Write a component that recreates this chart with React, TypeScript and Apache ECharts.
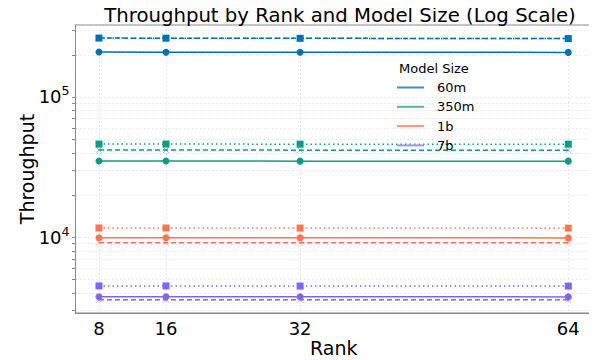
import React, { useEffect, useRef } from "react";
import * as echarts from "echarts";

const ranks = [8, 16, 32, 64];
const models = ["60m", "350m", "1b", "7b"];
const modelColors = ["#0072B2", "#0C9C85", "#FF7350", "#7B68EE"];
const legendColors = ["#3C8FC8", "#4FB8A5", "#FF9477", "#A396F2"];

// Throughput per model (one value per rank) for the three line styles
const solidValues = [
  [209000, 208500, 208500, 208000],
  [35000, 35000, 34900, 34900],
  [9930, 9930, 9920, 9900],
  [3770, 3770, 3770, 3760],
];
const dashedValues = [
  [263000, 262500, 262000, 261000],
  [41900, 41900, 41800, 41800],
  [9150, 9150, 9140, 9130],
  [3590, 3590, 3590, 3580],
];
const dottedValues = [
  [263000, 262500, 262000, 261000],
  [46200, 46200, 46100, 46100],
  [11650, 11650, 11640, 11620],
  [4500, 4500, 4490, 4490],
];

const yMajorTicks = [10000, 100000];
const yMinorTicks = [3000, 4000, 5000, 6000, 7000, 8000, 9000, 20000, 30000, 40000, 50000, 60000, 70000, 80000, 90000, 200000, 300000];

const FONT = "DejaVu Sans";

function toPairs(vals: number[]) {
  return ranks.map((r, i) => [r, vals[i]]);
}

export default function App() {
  const ref = useRef<HTMLDivElement>(null);

  useEffect(() => {
    if (!ref.current) return;
    const chart = echarts.init(ref.current, undefined, { renderer: "svg" });

    const series: any[] = [];
    models.forEach((m, k) => {
      const c = modelColors[k];
      series.push({
        name: m + " dotted",
        type: "line",
        data: toPairs(dottedValues[k]),
        symbol: "rect",
        symbolSize: 7,
        lineStyle: { color: c, width: 1.5, type: [1.5, 3] },
        itemStyle: { color: c },
        z: 2,
      });
      series.push({
        name: m + " dashed",
        type: "line",
        data: toPairs(dashedValues[k]),
        symbol: "path://M0,0L10,10M10,0L0,10",
        symbolSize: 6,
        lineStyle: { color: c, width: 1.5, type: [5, 3] },
        itemStyle: { color: "none", borderColor: c, borderWidth: 1, opacity: 0.5 },
        z: 3,
      });
      series.push({
        name: m,
        type: "line",
        data: toPairs(solidValues[k]),
        symbol: "circle",
        symbolSize: 7,
        lineStyle: { color: c, width: 1.5 },
        itemStyle: { color: c },
        z: 4,
      });
    });

    chart.setOption({
      animation: false,
      title: {
        text: "Throughput by Rank and Model Size (Log Scale)",
        left: 335,
        textAlign: "center",
        top: 0,
        textStyle: { fontFamily: FONT, fontSize: 19.7, fontWeight: "normal", color: "#000" },
      },
      legend: {
        data: models.map((m, k) => ({ name: m, icon: "rect", itemStyle: { color: legendColors[k] } })),
        orient: "vertical",
        left: 397,
        top: 80,
        padding: 0,
        itemWidth: 27,
        itemHeight: 2,
        itemGap: 4.3,
        textStyle: { fontFamily: FONT, fontSize: 13, color: "#000", padding: [0, 0, 0, 8], lineHeight: 15 },
        selectedMode: false,
      },
      graphic: [
        {
          type: "text",
          left: 399,
          top: 62,
          style: { text: "Model Size", fontFamily: FONT, fontSize: 13, fill: "#000" },
        },
      ],
      grid: {
        left: 75.5,
        right: 5,
        top: 25,
        bottom: 47,
        outerBoundsMode: "none",
        containLabel: false,
        show: true,
        borderColor: "#888",
        borderWidth: 1,
      },
      xAxis: {
        type: "value",
        min: 5.2,
        max: 66.83,
        name: "Rank",
        nameLocation: "middle",
        nameGap: 25,
        nameMoveOverlap: false,
        nameTextStyle: { fontFamily: FONT, fontSize: 19, color: "#000" },
        axisLine: { show: true, lineStyle: { color: "#888" } },
        axisTick: { show: true, length: 0, customValues: ranks, lineStyle: { color: "transparent" } },
        axisLabel: { customValues: ranks, fontFamily: FONT, fontSize: 18, color: "#000", margin: 6 },
        splitLine: { show: true, lineStyle: { color: "#e2e2e2", width: 0.8, type: [2, 2] } },
      },
      yAxis: {
        type: "log",
        logBase: 10,
        min: 2886,
        max: 326000,
        name: "Throughput",
        nameLocation: "middle",
        nameGap: 39,
        nameMoveOverlap: false,
        nameTextStyle: { fontFamily: FONT, fontSize: 19, color: "#000" },
        axisLine: { show: true, lineStyle: { color: "#888" } },
        axisTick: {
          show: true,
          length: 3.5,
          customValues: [...yMajorTicks, ...yMinorTicks],
          lineStyle: { color: "#888" },
        },
        axisLabel: {
          customValues: yMajorTicks,
          margin: 6,
          formatter: (v: number) => `{b|10}{s|${Math.round(Math.log10(v))}}`,
          rich: {
            b: { fontFamily: FONT, fontSize: 18, color: "#000" },
            s: { fontFamily: FONT, fontSize: 12.5, color: "#000", verticalAlign: "top", padding: [0, 0, 12, 0] },
          },
        },
        splitLine: { show: true, lineStyle: { color: "#e2e2e2", width: 0.8, type: [2, 2] } },
      },
      series,
    });

    return () => chart.dispose();
  }, []);

  return <div ref={ref} style={{ width: 597, height: 360, marginTop: -8, marginLeft: -8 }} />;
}
